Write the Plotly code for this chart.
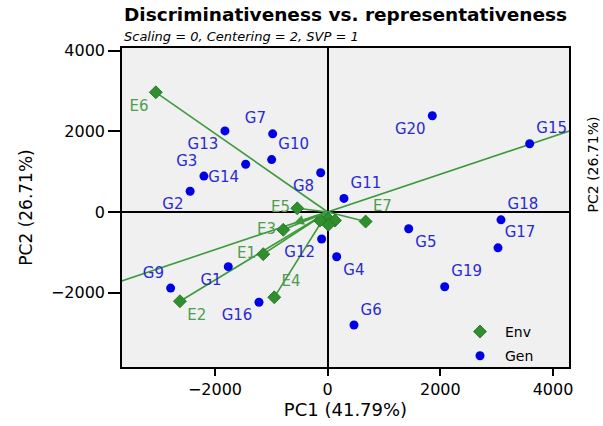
import plotly.graph_objects as go

# ---------------- data ----------------
env_names = ["E1", "E2", "E3", "E4", "E5", "E6", "E7"]
env_x = [-1143, -2622, -788, -948, -540, -3050, 674]
env_y = [-1047, -2216, -442, -2118, 91, 2970, -238]

# small unlabeled environment markers clustered at the origin
near_x = [11, 130, 11, -137]
near_y = [-172, -213, -319, -213]

gen_names = ["G1", "G2", "G3", "G4", "G5", "G6", "G7", "G8", "G9", "G10",
             "G11", "G12", "G13", "G14", "G15", "G16", "G17", "G18", "G19", "G20"]
gen_x = [-1764, -2441, -2196, 160, 1438, 467, -976, -124, -2787, -994,
         289, -107, -1823, -1455, 3585, -1219, 3023, 3076, 2077, 1857]
gen_y = [-1357, 515, 891, -1112, -417, -2805, 1939, 974, -1890, 1300,
         336, -670, 2012, 1185, 1693, -2241, -891, -196, -1857, 2388]

# average environment coordinate (direction of the AEA)
aec_x = -600
aec_y = -281

x_ticks = [-2000, 0, 2000, 4000]
y_ticks = [-2000, 0, 2000, 4000]
x_range = [-3650, 4283]
y_range = [-3848, 4070]

title = "Discriminativeness vs. representativeness"
subtitle = "Scaling = 0, Centering = 2, SVP = 1"
x_title = "PC1 (41.79%)"
y_title = "PC2 (26.71%)"

# ---------------- styles ----------------
FONT = "DejaVu Sans"
GREEN = "#2f8f2f"
GREEN_LINE = "#3d9a3d"
GREEN_TXT = "#4e9e4e"
BLUE = "#0000e6"
BLUE_TXT = "#2a2ad0"

env_pos = {"E1": "middle left", "E2": "bottom right", "E3": "middle left",
           "E4": "top right", "E5": "middle left", "E6": "bottom left",
           "E7": "top right"}
gen_pos = {"G1": "bottom left", "G2": "bottom left", "G3": "top left",
           "G4": "bottom right", "G5": "bottom right", "G6": "top right",
           "G7": "top left", "G8": "bottom left", "G9": "top left",
           "G10": "top right", "G11": "top right", "G12": "bottom left",
           "G13": "bottom left", "G14": "bottom left", "G15": "top right",
           "G16": "bottom left", "G17": "top right", "G18": "top right",
           "G19": "top right", "G20": "bottom left"}

fig = go.Figure()

# AEA line through origin
k = 20
fig.add_trace(go.Scatter(x=[-k * aec_x, k * aec_x], y=[-k * aec_y, k * aec_y],
                         mode="lines", line=dict(color=GREEN_LINE, width=1.6),
                         showlegend=False, hoverinfo="skip"))

# environment vectors
vx, vy = [], []
for x, y in zip(env_x + near_x, env_y + near_y):
    vx += [0, x, None]
    vy += [0, y, None]
fig.add_trace(go.Scatter(x=vx, y=vy, mode="lines",
                         line=dict(color=GREEN_LINE, width=1.6),
                         showlegend=False, hoverinfo="skip"))

fig.add_trace(go.Scatter(x=near_x, y=near_y, mode="markers",
                         marker=dict(symbol="diamond", size=10, color=GREEN,
                                     line=dict(color="#1f6f1f", width=0.8)),
                         showlegend=False, hoverinfo="skip"))

fig.add_trace(go.Scatter(
    x=env_x, y=env_y, mode="markers+text", name="Env",
    text=env_names, textposition=[env_pos[n] for n in env_names],
    textfont=dict(family=FONT, size=15, color=GREEN_TXT),
    marker=dict(symbol="diamond", size=10, color=GREEN,
                line=dict(color="#1f6f1f", width=0.8)),
    legendgroup="env"))

fig.add_trace(go.Scatter(
    x=gen_x, y=gen_y, mode="markers+text", name="Gen",
    text=gen_names, textposition=[gen_pos[n] for n in gen_names],
    textfont=dict(family=FONT, size=15, color=BLUE_TXT),
    marker=dict(symbol="circle", size=9, color=BLUE),
    legendgroup="gen"))

# arrow towards the average environment
fig.add_annotation(x=aec_x, y=aec_y, ax=0, ay=0, xref="x", yref="y",
                   axref="x", ayref="y", showarrow=True, arrowhead=2,
                   arrowsize=1, arrowwidth=2, arrowcolor=GREEN_LINE, text="")

fig.add_annotation(x=0.5, y=1, xref="paper", yref="paper", yshift=21,
                   text="<b>" + title + "</b>", showarrow=False,
                   xanchor="center", yanchor="bottom",
                   font=dict(family=FONT, size=18.5, color="black"))
fig.add_annotation(x=0, y=1, xref="paper", yref="paper", yshift=2,
                   text="<i>" + subtitle + "</i>", showarrow=False,
                   xanchor="left", yanchor="bottom",
                   font=dict(family=FONT, size=13, color="black"))
fig.add_annotation(x=1, y=0.635, xref="paper", yref="paper", xshift=24,
                   text=y_title, textangle=-90, showarrow=False,
                   xanchor="center", yanchor="middle",
                   font=dict(family=FONT, size=14, color="black"))

fig.update_layout(
    width=603, height=426,
    margin=dict(l=122, r=34, t=48, b=57),
    paper_bgcolor="white", plot_bgcolor="#f0f0f0",
    font=dict(family=FONT, color="black"),
    showlegend=True,
    legend=dict(x=0.745, y=0.16, xanchor="left", yanchor="top",
                bgcolor="rgba(0,0,0,0)", font=dict(family=FONT, size=14),
                itemwidth=40,
                traceorder="grouped", tracegroupgap=3),
    xaxis=dict(range=x_range, tickvals=x_ticks, ticks="outside", ticklen=7,
               tickwidth=1.5, tickcolor="black", showgrid=False,
               zeroline=True, zerolinecolor="black", zerolinewidth=1.6,
               showline=True, linecolor="black", linewidth=1.6, mirror=True,
               tickfont=dict(family=FONT, size=16),
               title=dict(text=x_title, font=dict(family=FONT, size=18), standoff=2)),
    yaxis=dict(range=y_range, tickvals=y_ticks, ticks="outside", ticklen=12,
               tickwidth=1.5, tickcolor="black", showgrid=False,
               zeroline=True, zerolinecolor="black", zerolinewidth=1.6,
               showline=True, linecolor="black", linewidth=1.6, mirror=True,
               tickfont=dict(family=FONT, size=16),
               title=dict(text=y_title, font=dict(family=FONT, size=17), standoff=14)),
)

fig.write_html("out.html")
